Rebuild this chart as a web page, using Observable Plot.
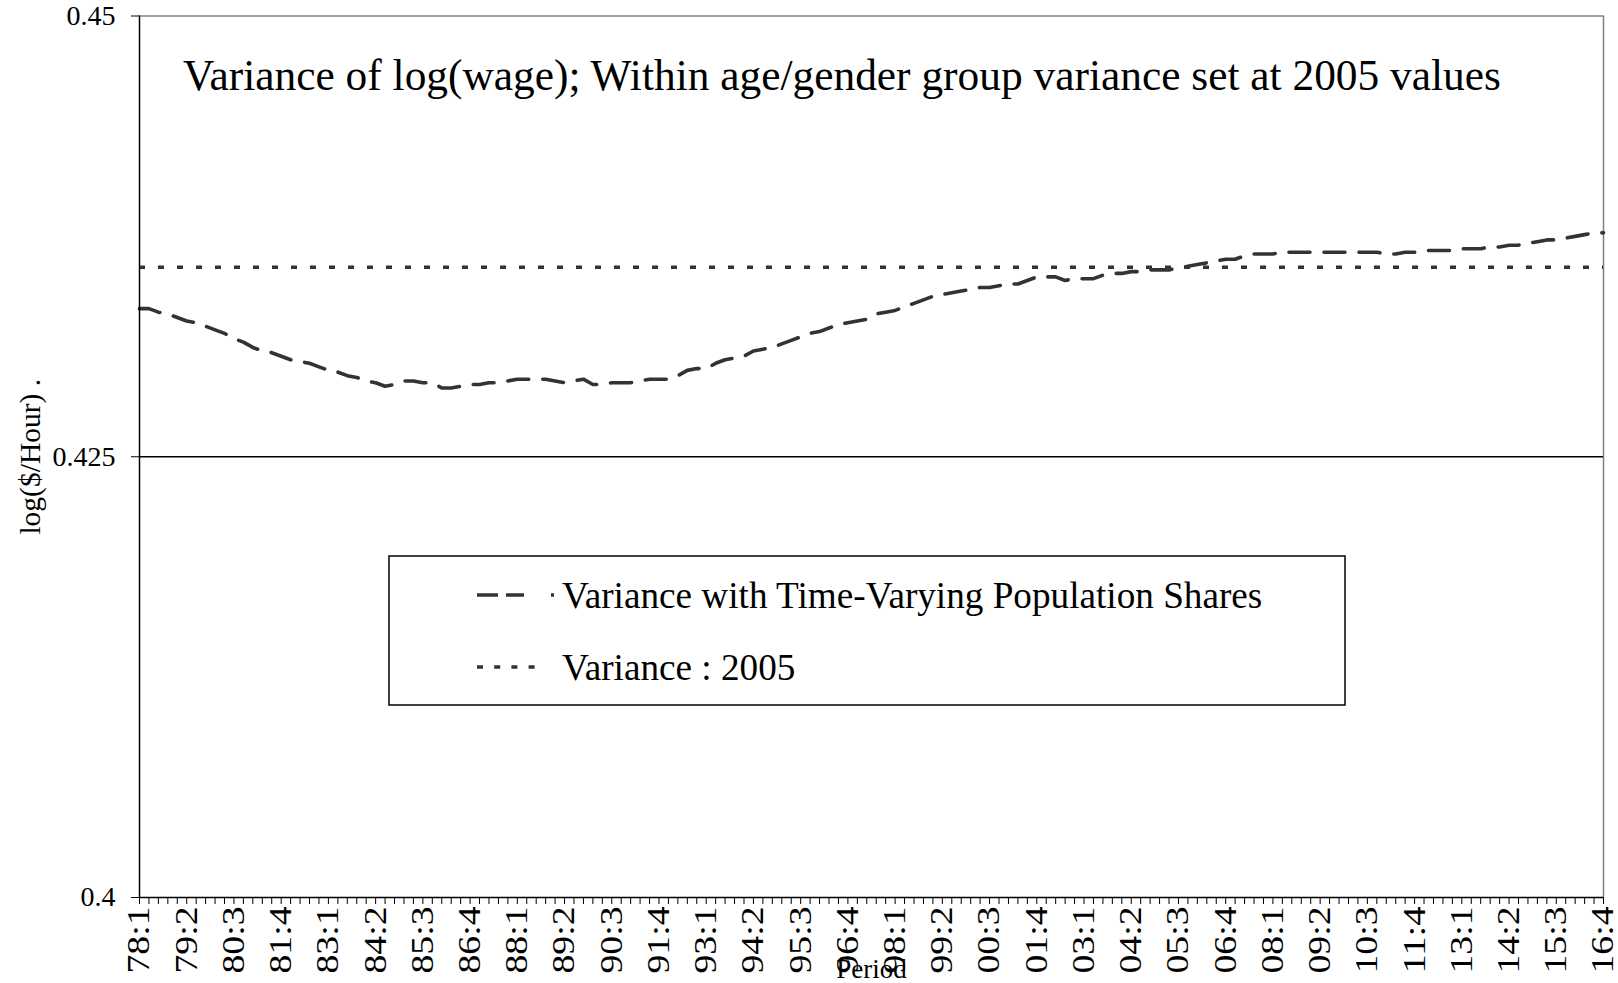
<!DOCTYPE html>
<html><head><meta charset="utf-8">
<script src="https://cdn.jsdelivr.net/npm/d3@7"></script>
<script src="https://cdn.jsdelivr.net/npm/@observablehq/plot@0.6"></script>
<style>
html,body{margin:0;padding:0;background:#fff;}
#chart{position:relative;width:1618px;height:983px;}
</style></head><body><div id="chart"></div>
<script>
const years = ["78","79","80","81","82","83","84","85","86","87","88","89","90","91","92","93","94","95","96","97","98","99","00","01","02","03","04","05","06","07","08","09","10","11","12","13","14","15","16"];
const quarters = ["1","2","3","4"];
const periods = years.flatMap(y => quarters.map(q => y + ":" + q));

const varianceTimeVarying = [
  0.4334,0.4334,0.4332,0.4331,0.4329,0.4327,0.4326,0.4324,0.4322,0.4320,
  0.4317,0.4315,0.4312,0.4310,0.4309,0.4307,0.4305,0.4304,0.4303,0.4301,
  0.4299,0.4298,0.4296,0.4295,0.4293,0.4292,0.4290,0.4291,0.4293,0.4293,
  0.4292,0.4292,0.4289,0.4289,0.4290,0.4291,0.4291,0.4292,0.4292,0.4293,
  0.4294,0.4294,0.4294,0.4294,0.4293,0.4292,0.4293,0.4294,0.4291,0.4291,
  0.4292,0.4292,0.4292,0.4293,0.4294,0.4294,0.4294,0.4296,0.4299,0.4300,
  0.4300,0.4303,0.4305,0.4306,0.4307,0.4310,0.4311,0.4312,0.4314,0.4316,
  0.4318,0.4320,0.4321,0.4323,0.4325,0.4326,0.4327,0.4328,0.4331,0.4332,
  0.4333,0.4335,0.4337,0.4339,0.4341,0.4342,0.4343,0.4344,0.4345,0.4346,
  0.4346,0.4347,0.4348,0.4348,0.4350,0.4352,0.4352,0.4352,0.4350,0.4351,
  0.4351,0.4351,0.4353,0.4354,0.4354,0.4355,0.4355,0.4356,0.4356,0.4356,
  0.4357,0.4358,0.4359,0.4360,0.4361,0.4362,0.4362,0.4364,0.4365,0.4365,
  0.4365,0.4366,0.4366,0.4366,0.4366,0.4366,0.4366,0.4366,0.4366,0.4366,
  0.4366,0.4366,0.4365,0.4365,0.4366,0.4366,0.4367,0.4367,0.4367,0.4367,
  0.4368,0.4368,0.4368,0.4369,0.4369,0.4370,0.4370,0.4371,0.4372,0.4373,
  0.4373,0.4374,0.4375,0.4376,0.4377,0.4377
];
const variance2005 = 0.43575;

const xTickLabels = ["78:1","79:2","80:3","81:4","83:1","84:2","85:3","86:4","88:1","89:2","90:3","91:4","93:1","94:2","95:3","96:4","98:1","99:2","00:3","01:4","03:1","04:2","05:3","06:4","08:1","09:2","10:3","11:4","13:1","14:2","15:3","16:4"];
const yTicks = [0.4, 0.425, 0.45];
const yTickLabels = ["0.4", "0.425", "0.45"];
const titleText = "Variance of log(wage); Within age/gender group variance set at 2005 values";
const seriesNames = ["Variance with Time-Varying Population Shares", "Variance : 2005"];
const xLabel = "Period";
const yLabel = "log($/Hour) .";

const rows = periods.map((p, i) => ({period: p, value: varianceTimeVarying[i]}));
const FONT = "'Liberation Serif', 'Times New Roman', serif";
const INK = "#333333";

const chart = Plot.plot({
  width: 1618, height: 983,
  marginLeft: 139, marginRight: 15, marginTop: 15.5, marginBottom: 86,
  style: {fontFamily: FONT, fontSize: "27px", color: "#000", background: "#fff"},
  x: {type: "point", domain: periods, padding: 0},
  y: {domain: [0.4, 0.45]},
  marks: [
    Plot.ruleY([0.45], {stroke: "#808080", strokeWidth: 1.5}),
    Plot.ruleX([periods[periods.length - 1]], {stroke: "#808080", strokeWidth: 1.5}),
    Plot.ruleY([0.425], {stroke: "#000", strokeWidth: 1.3}),
    Plot.ruleY([variance2005], {stroke: INK, strokeWidth: 3.5, strokeDasharray: "6,13"}),
    Plot.line(rows, {x: "period", y: "value", stroke: INK, strokeWidth: 3.6, strokeDasharray: "21,14"}),
    Plot.axisX({ticks: periods, tickSize: 7, tickPadding: 2, tickRotate: -90,
      tickFormat: d => xTickLabels.includes(d) ? d : "",
      label: xLabel, labelAnchor: "center", labelOffset: 80, labelArrow: false, fontSize: 27}),
    Plot.axisY({ticks: yTicks, tickSize: 8, tickPadding: 16,
      tickFormat: d => yTickLabels[yTicks.indexOf(d)],
      label: yLabel, labelAnchor: "center", labelOffset: 120, labelArrow: false, fontSize: 28}),
    Plot.ruleX([periods[0]], {stroke: "#000", strokeWidth: 1.5}),
    Plot.ruleY([0.4], {stroke: "#000", strokeWidth: 1.5})
  ]
});
document.getElementById("chart").appendChild(chart);

const svg = d3.select(chart);
// x tick labels: the reference's tick text is elongated along its reading direction
svg.selectAll('g[aria-label="x-axis tick label"] text')
  .filter(function() { return this.textContent.length > 0; })
  .attr("font-size", 31)
  .attr("textLength", 67)
  .attr("lengthAdjust", "spacingAndGlyphs");
svg.selectAll('g[aria-label="y-axis label"] text').attr("font-size", 29.5);

svg.append("text")
  .attr("x", 183).attr("y", 90)
  .attr("text-anchor", "start")
  .attr("font-family", FONT).attr("font-size", 43.4).attr("fill", "#000")
  .text(titleText);

const lg = svg.append("g").attr("text-anchor", "start");
lg.append("rect").attr("x", 389).attr("y", 556).attr("width", 956).attr("height", 149)
  .attr("fill", "#fff").attr("stroke", "#000").attr("stroke-width", 1.5);
const legendRows = [
  {name: seriesNames[0], y: 595, dash: "21,8,18,27,3,200", x2: 557},
  {name: seriesNames[1], y: 667, dash: "6,11.2", x2: 535}
];
legendRows.forEach(r => {
  lg.append("line").attr("x1", 477).attr("x2", r.x2).attr("y1", r.y).attr("y2", r.y)
    .attr("stroke", INK).attr("stroke-width", 3.5).attr("stroke-dasharray", r.dash);
  lg.append("text").attr("x", 562).attr("y", r.y + 13)
    .attr("text-anchor", "start")
    .attr("font-family", FONT).attr("font-size", 37.2).attr("fill", "#000")
    .text(r.name);
});
</script></body></html>
